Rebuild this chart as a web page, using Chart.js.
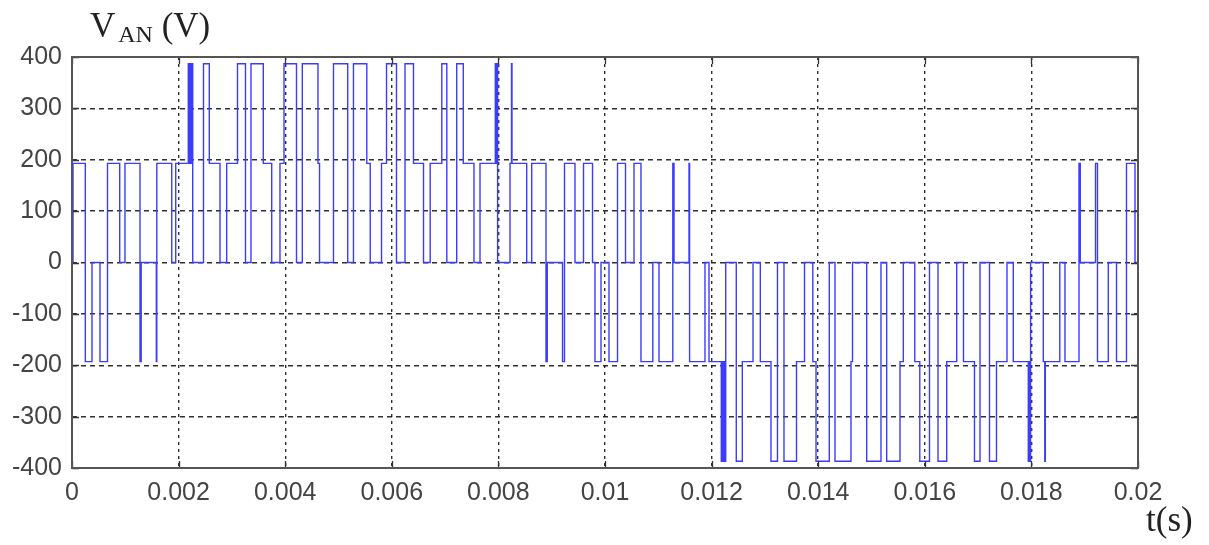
<!DOCTYPE html>
<html>
<head>
<meta charset="utf-8">
<script src="https://cdn.jsdelivr.net/npm/chart.js@4.4.1/dist/chart.umd.min.js"></script>
<style>
  html, body { margin: 0; padding: 0; background: #ffffff; }
  #wrap { width: 1209px; height: 545px; position: relative; }
</style>
</head>
<body>
<div id="wrap"><canvas id="c" width="1209" height="545"></canvas></div>
<script>
// Switching instants (microseconds) and the phase voltage V_AN (V) held from each instant
const switchTimesUs = [
  0, 19, 250, 375, 525, 666, 895, 994, 1276, 1298,
  1582, 1591, 1871, 1946, 2182, 2201, 2220, 2238, 2248, 2265,
  2467, 2576, 2777, 2902, 3105, 3255, 3358, 3589, 3747, 3902,
  3978, 4212, 4321, 4615, 4644, 4906, 5173, 5281, 5531, 5595,
  5807, 5901, 6088, 6248, 6407, 6595, 6720, 6938, 7032, 7218,
  7341, 7542, 7655, 7942, 7959, 7970, 7985, 8218, 8246, 8255,
  8531, 8625, 8893, 8917, 9203, 9240, 9437, 9597, 9766, 9812,
  9925,
  10075, 10235, 10385, 10544, 10675, 10897, 11013, 11272, 11295, 11576,
  11587, 11876, 11951, 12182, 12201, 12220, 12238, 12248, 12265, 12463,
  12576, 12777, 12914, 13114, 13236, 13358, 13593, 13743, 13899, 13959,
  14208, 14315, 14615, 14644, 14910, 15178, 15285, 15535, 15597, 15812,
  15906, 16088, 16248, 16411, 16599, 16726, 16932, 17036, 17214, 17345,
  17542, 17660, 17942, 17959, 17970, 17985, 18223, 18251, 18261, 18533,
  18630, 18893, 18917, 19203, 19240, 19443, 19597, 19784, 19944, 20000
];
const phaseVoltage = [
  0, 193, -193, 0, -193, 193, 0, 193, -193, 0,
  -193, 193, 0, 193, 387, 193, 387, 193, 387, 0,
  387, 193, 0, 193, 387, 0, 387, 193, 0, 193,
  387, 0, 387, 193, 0, 387, 0, 387, 193, 0,
  193, 387, 0, 387, 193, 0, 193, 387, 0, 387,
  193, 0, 193, 387, 193, 387, 0, 193, 387, 193,
  0, 193, -193, 0, -193, 193, 0, 193, 0, -193,
  0,
  -193, 193, 0, 193, -193, 0, -193, 193, 0, 193,
  -193, 0, -193, -387, -193, -387, -193, -387, 0, -387,
  -193, 0, -193, -387, 0, -387, -193, 0, -193, -387,
  0, -387, -193, 0, -387, 0, -387, -193, 0, -193,
  -387, 0, -387, -193, 0, -193, -387, 0, -387, -193,
  0, -193, -387, -193, -387, 0, -193, -387, -193, 0,
  -193, 193, 0, 193, -193, 0, -193, 193, 0, 0
];
const xTicks = [0, 0.002, 0.004, 0.006, 0.008, 0.01, 0.012, 0.014, 0.016, 0.018, 0.02];
const yTicks = [-400, -300, -200, -100, 0, 100, 200, 300, 400];
const yTitle = { main: 'V', sub: 'AN', unit: ' (V)' };
const xTitle = 't(s)';

const points = switchTimesUs.map((t, i) => ({ x: t * 1e-6, y: phaseVoltage[i] }));

const frameAndLabels = {
  id: 'frameAndLabels',
  afterDraw(chart) {
    const { ctx, chartArea: a, scales } = chart;
    ctx.save();
    // inward tick marks (MATLAB style)
    ctx.strokeStyle = '#333';
    ctx.lineWidth = 1.3;
    ctx.setLineDash([]);
    const tl = 7;
    ctx.beginPath();
    xTicks.forEach(v => {
      const px = Math.round(scales.x.getPixelForValue(v)) + 0.5;
      ctx.moveTo(px, a.bottom); ctx.lineTo(px, a.bottom - tl);
      ctx.moveTo(px, a.top); ctx.lineTo(px, a.top + tl);
    });
    yTicks.forEach(v => {
      const py = Math.round(scales.y.getPixelForValue(v)) + 0.5;
      ctx.moveTo(a.left, py); ctx.lineTo(a.left + tl, py);
      ctx.moveTo(a.right, py); ctx.lineTo(a.right - tl, py);
    });
    ctx.stroke();
    // box
    ctx.strokeStyle = '#555';
    ctx.lineWidth = 2;
    ctx.strokeRect(a.left, a.top, a.right - a.left, a.bottom - a.top);
    // axis titles
    ctx.fillStyle = '#222';
    ctx.textBaseline = 'alphabetic';
    ctx.textAlign = 'left';
    ctx.font = '35px "Liberation Serif", "Times New Roman", serif';
    ctx.fillText(yTitle.main, 90, 37);
    const wV = ctx.measureText(yTitle.main).width;
    ctx.font = '24px "Liberation Serif", "Times New Roman", serif';
    ctx.fillText(yTitle.sub, 90 + wV + 3, 42);
    const wS = ctx.measureText(yTitle.sub).width;
    ctx.font = '35px "Liberation Serif", "Times New Roman", serif';
    ctx.fillText(yTitle.unit, 90 + wV + 3 + wS, 37);
    ctx.fillText(xTitle, 1146, 531);
    ctx.restore();
  }
};

new Chart(document.getElementById('c'), {
  type: 'line',
  data: {
    datasets: [{
      data: points,
      stepped: true,
      borderColor: 'rgb(60,60,255)',
      borderWidth: 1.4,
      pointRadius: 0,
      fill: false,
      tension: 0
    }]
  },
  options: {
    responsive: false,
    animation: false,
    devicePixelRatio: 1,
    layout: { padding: { left: 0, right: 71, top: 57, bottom: 0 } },
    plugins: { legend: { display: false }, tooltip: { enabled: false }, title: { display: false } },
    scales: {
      x: {
        type: 'linear',
        min: 0, max: 0.02,
        afterBuildTicks: s => { s.ticks = xTicks.map(v => ({ value: v })); },
        afterFit: s => { s.height = 77; },
        ticks: {
          autoSkip: false, maxRotation: 0, padding: 10,
          color: '#444',
          font: { family: '"Liberation Sans", Arial, sans-serif', size: 25 },
          callback: v => String(+Number(v).toFixed(3))
        },
        grid: { color: 'rgba(25,25,25,0.9)', lineWidth: 1.4, drawTicks: false },
        border: { display: false, dash: [3, 4] }
      },
      y: {
        type: 'linear',
        min: -400, max: 400,
        afterBuildTicks: s => { s.ticks = yTicks.map(v => ({ value: v })); },
        afterFit: s => { s.width = 72; },
        ticks: {
          autoSkip: false, padding: 10,
          color: '#444',
          font: { family: '"Liberation Sans", Arial, sans-serif', size: 25 },
          callback: v => String(v)
        },
        grid: { color: 'rgba(25,25,25,0.9)', lineWidth: 1.4, drawTicks: false },
        border: { display: false, dash: [5, 4] }
      }
    }
  },
  plugins: [frameAndLabels]
});
</script>
</body>
</html>
